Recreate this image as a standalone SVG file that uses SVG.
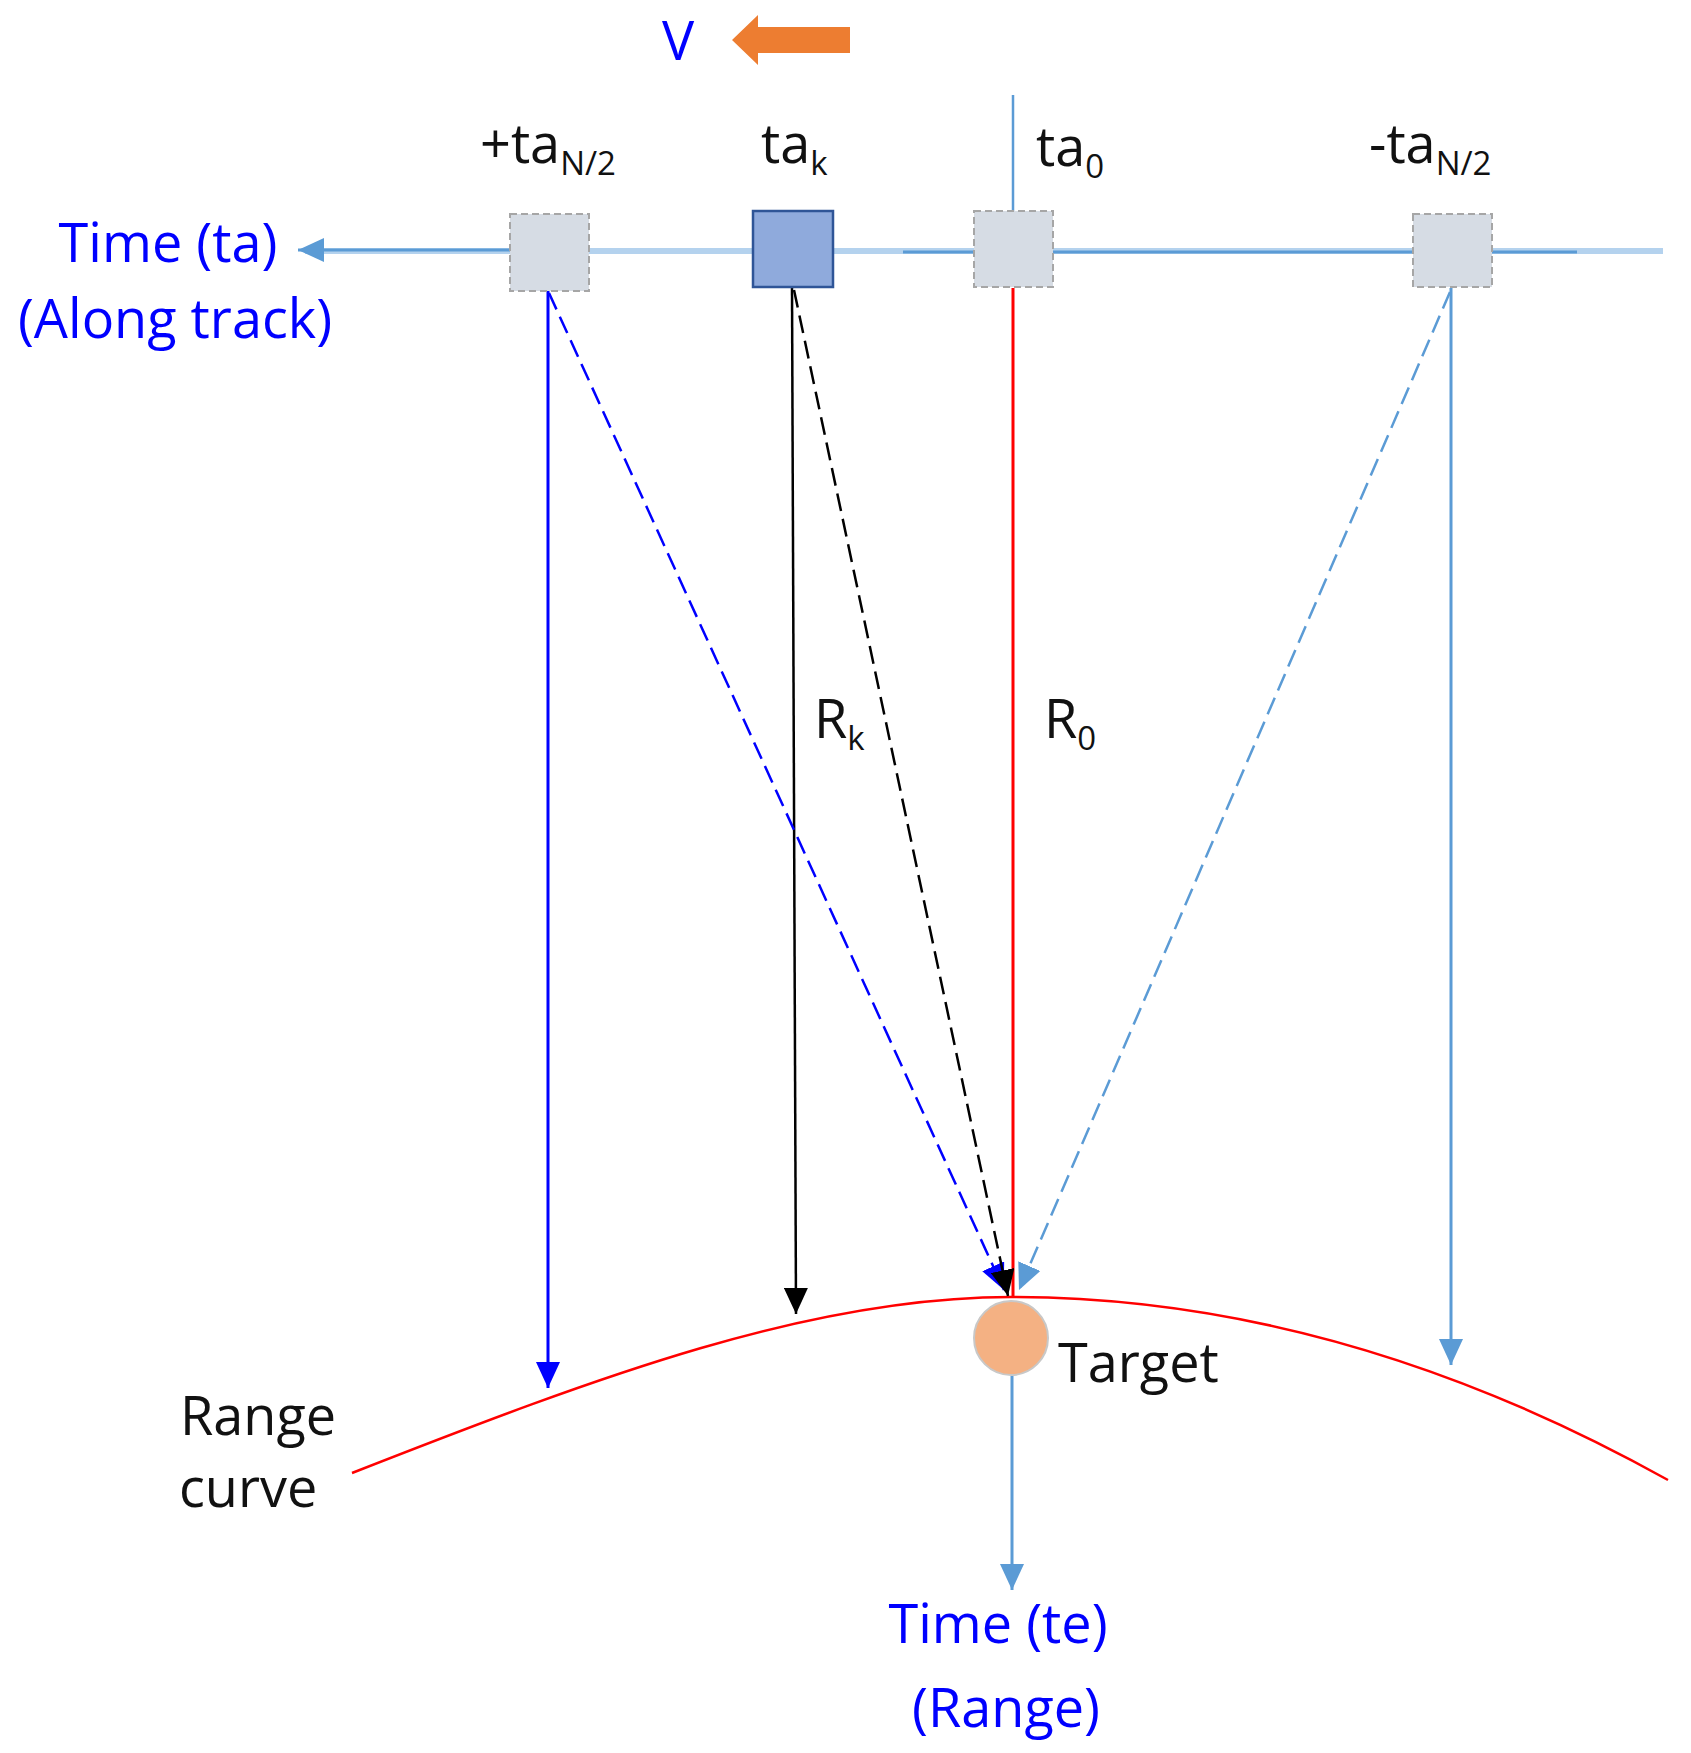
<svg xmlns="http://www.w3.org/2000/svg" width="1691" height="1753" viewBox="0 0 1691 1753">
  <style>
    text { font-family: "Open Sans", "Noto Sans", "Liberation Sans", sans-serif; font-size: 54px; }
    .blk { fill: #111111; }
    .blu { fill: #0000FF; }
    .sub { font-size: 33px; }
    .ghost { fill: #D6DCE4; stroke: #A6A6A6; stroke-width: 2; stroke-dasharray: 7 4; }
    .dash { stroke-width: 2.5; stroke-dasharray: 18 8; fill: none; }
  </style>
  <defs>
    <marker id="ah-blue" markerUnits="userSpaceOnUse" markerWidth="26" markerHeight="24" viewBox="0 0 26 24" refX="26" refY="12" orient="auto">
      <path d="M0,0 L26,12 L0,24 z" fill="#0000FF"/>
    </marker>
    <marker id="ah-black" markerUnits="userSpaceOnUse" markerWidth="26" markerHeight="24" viewBox="0 0 26 24" refX="26" refY="12" orient="auto">
      <path d="M0,0 L26,12 L0,24 z" fill="#000000"/>
    </marker>
    <marker id="ah-lblue" markerUnits="userSpaceOnUse" markerWidth="26" markerHeight="24" viewBox="0 0 26 24" refX="26" refY="12" orient="auto">
      <path d="M0,0 L26,12 L0,24 z" fill="#5B9BD5"/>
    </marker>
  </defs>

  <rect width="1691" height="1753" fill="#FFFFFF"/>

  <!-- velocity indicator -->
  <g id="velocity">
    <text x="662" y="60" class="blu" font-size="58">V</text>
    <path d="M732,40 L758,15 L758,27 L850,27 L850,53 L758,53 L758,65 z" fill="#ED7D31"/>
  </g>

  <!-- axes and connectors -->
  <g id="connectors">
    <!-- along-track axis -->
    <line x1="1663" y1="251" x2="305" y2="251" stroke="#B4D2EE" stroke-width="6"/>
    <line x1="1577" y1="252" x2="903" y2="252" stroke="#5B9BD5" stroke-width="3"/>
    <line x1="560" y1="250" x2="298" y2="250" stroke="#5B9BD5" stroke-width="3" marker-end="url(#ah-lblue)"/>
    <!-- ta0 reference line above -->
    <line x1="1013" y1="95" x2="1013" y2="212" stroke="#5B9BD5" stroke-width="2.5"/>

    <!-- range curve -->
    <path d="M352,1473 C602,1375 811,1297 1011,1297 Q1339.5,1297 1668,1480" fill="none" stroke="#FF0000" stroke-width="2.5"/>

    <!-- vertical projections -->
    <line x1="548" y1="291" x2="548" y2="1388" stroke="#0000FF" stroke-width="3" marker-end="url(#ah-blue)"/>
    <line x1="792" y1="287" x2="796" y2="1314" stroke="#000000" stroke-width="2.5" marker-end="url(#ah-black)"/>
    <line x1="1013" y1="288" x2="1013" y2="1297" stroke="#FF0000" stroke-width="3"/>
    <line x1="1451" y1="288" x2="1451" y2="1365" stroke="#5B9BD5" stroke-width="3" marker-end="url(#ah-lblue)"/>

    <!-- slant ranges -->
    <line x1="549" y1="293" x2="1004" y2="1290" class="dash" stroke="#0000FF" marker-end="url(#ah-blue)"/>
    <line x1="794" y1="290" x2="1008" y2="1296" class="dash" stroke="#000000" marker-end="url(#ah-black)"/>
    <line x1="1450" y1="292" x2="1019" y2="1290" class="dash" stroke="#5B9BD5" marker-end="url(#ah-lblue)"/>

    <!-- range axis -->
    <line x1="1012" y1="1376" x2="1012" y2="1590" stroke="#5B9BD5" stroke-width="3" marker-end="url(#ah-lblue)"/>
  </g>

  <!-- antenna positions -->
  <g id="node-ta-plus">
    <rect x="510" y="214" width="79" height="77" class="ghost"/>
    <text x="480" y="163" class="blk">+ta<tspan class="sub" dy="12">N/2</tspan></text>
  </g>
  <g id="node-ta-k">
    <rect x="753" y="211" width="80" height="76" fill="#8FAADC" stroke="#2F5597" stroke-width="2.5"/>
    <text x="761" y="163" class="blk">ta<tspan class="sub" dy="12">k</tspan></text>
  </g>
  <g id="node-ta-0">
    <rect x="974" y="211" width="79" height="76" class="ghost"/>
    <text x="1036" y="166" class="blk">ta<tspan class="sub" dy="12">0</tspan></text>
  </g>
  <g id="node-ta-minus">
    <rect x="1413" y="214" width="79" height="73" class="ghost"/>
    <text x="1369" y="163" class="blk">-ta<tspan class="sub" dy="12">N/2</tspan></text>
  </g>

  <!-- target -->
  <g id="node-target">
    <circle cx="1011" cy="1338" r="37" fill="#F4B183" stroke="#C8C8C8" stroke-width="2"/>
    <text x="1058" y="1382" class="blk">Target</text>
  </g>

  <!-- range labels -->
  <g id="label-rk">
    <text x="814" y="738" class="blk">R<tspan class="sub" dy="12">k</tspan></text>
  </g>
  <g id="label-r0">
    <text x="1044" y="738" class="blk">R<tspan class="sub" dy="12">0</tspan></text>
  </g>

  <!-- axis labels -->
  <g id="label-along-track">
    <text x="168" y="262" class="blu" text-anchor="middle">Time (ta)</text>
    <text x="175" y="338" class="blu" text-anchor="middle">(Along track)</text>
  </g>
  <g id="label-range-axis">
    <text x="998" y="1643" class="blu" text-anchor="middle">Time (te)</text>
    <text x="1006" y="1727" class="blu" text-anchor="middle">(Range)</text>
  </g>
  <g id="label-range-curve">
    <text x="180" y="1435" class="blk" font-size="51">Range</text>
    <text x="179" y="1507" class="blk" font-size="51">curve</text>
  </g>
</svg>
